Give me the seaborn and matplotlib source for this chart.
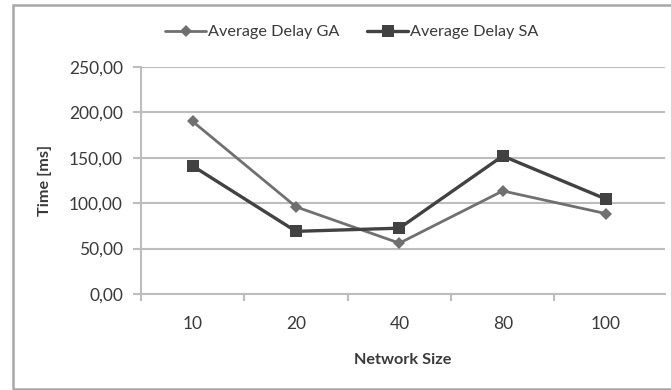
import matplotlib
matplotlib.use("Agg")
import matplotlib.pyplot as plt
import matplotlib.patches as mpatches
import seaborn as sns
import pandas as pd

network_sizes = ["10", "20", "40", "80", "100"]
delay_ga = [190.0, 96.0, 56.0, 113.5, 88.5]
delay_sa = [141.0, 69.0, 72.5, 152.0, 104.5]
series_names = ["Average Delay GA", "Average Delay SA"]
y_ticks = [0, 50, 100, 150, 200, 250]

df = pd.DataFrame({
    "Network Size": network_sizes * 2,
    "Time": delay_ga + delay_sa,
    "Series": [series_names[0]] * len(network_sizes) + [series_names[1]] * len(network_sizes),
})

sns.set_theme(style="white")
plt.rcParams["font.family"] = ["Lato", "DejaVu Sans"]

text_color = "#3a3a3a"
grid_color = "#bdbdbd"
palette = {series_names[0]: "#707070", series_names[1]: "#424242"}
markers = {series_names[0]: "D", series_names[1]: "s"}

fig = plt.figure(figsize=(6.71, 3.90), dpi=100)
fig.patch.set_facecolor("white")
ax = fig.add_axes([141 / 671, 96 / 390, 524 / 671, 227 / 390])

sns.lineplot(
    data=df, x="Network Size", y="Time", hue="Series", style="Series",
    palette=palette, markers=markers, dashes=False, ax=ax, sort=False,
    legend=False,
)
# per-series line widths and marker sizes
for line, name in zip(ax.get_lines(), series_names):
    if name == series_names[0]:
        line.set_linewidth(2.0)
        line.set_markersize(6.5)
    else:
        line.set_linewidth(2.4)
        line.set_markersize(8.5)
    line.set_markeredgewidth(0)
    line.set_zorder(3)

ax.set_xlim(-0.5, 4.57)
ax.set_ylim(0, 250)
ax.set_yticks(y_ticks)
ax.set_yticklabels([f"{v:.2f}".replace(".", ",") for v in y_ticks])
ax.set_xticks(range(len(network_sizes)))
ax.set_xticklabels(network_sizes)
ax.yaxis.grid(True, color=grid_color, linewidth=1.5)
ax.xaxis.grid(False)
ax.set_axisbelow(True)

for side in ["top", "right"]:
    ax.spines[side].set_visible(False)
for side in ["left", "bottom"]:
    ax.spines[side].set_color(grid_color)
    ax.spines[side].set_linewidth(1.5)

ax.tick_params(axis="y", which="major", left=True, length=6, width=1.5,
               color=grid_color, labelsize=12.5, labelcolor=text_color, pad=7)
ax.tick_params(axis="x", which="major", bottom=False, labelsize=12.5,
               labelcolor=text_color, pad=10)
# category separators on the horizontal axis
ax.set_xticks([-0.5, 0.5, 1.5, 2.5, 3.5], minor=True)
ax.tick_params(axis="x", which="minor", bottom=True, length=5, width=1.5,
               color=grid_color)

ax.set_xlabel("Network Size", fontsize=11.7, fontweight="bold", color=text_color, labelpad=15)
ax.set_ylabel("Time [ms]", fontsize=11.7, fontweight="bold", color=text_color, labelpad=12)

# legend along the top
handles = [
    plt.Line2D([], [], color=palette[series_names[0]], lw=2.0, marker="D", markersize=6, markeredgewidth=0),
    plt.Line2D([], [], color=palette[series_names[1]], lw=2.4, marker="s", markersize=8, markeredgewidth=0),
]
fig.legend(handles, series_names, loc="center", bbox_to_anchor=(352 / 671, 1 - 32 / 390),
           ncol=2, frameon=False, fontsize=11.7, handlelength=2.5, handletextpad=0.15,
           columnspacing=1.7, labelcolor=text_color)

# chart area border
fig.patches.append(mpatches.Rectangle((12.5 / 671, 1.5 / 390), 1.2, 383.5 / 390,
                                      transform=fig.transFigure, fill=False,
                                      edgecolor="#a8a8a8", linewidth=1.8))

fig.savefig("out.png", dpi=100, facecolor="white")
